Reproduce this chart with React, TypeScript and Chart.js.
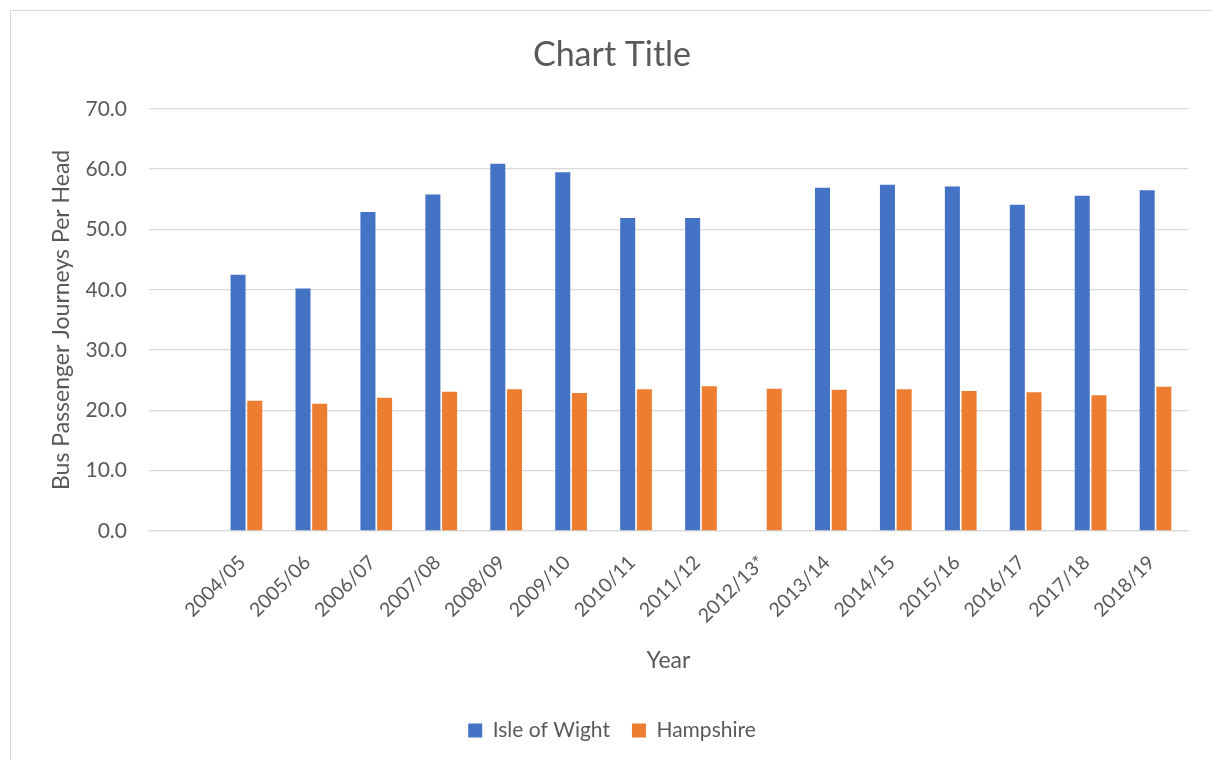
import React, { useEffect, useRef } from "react";
import { Chart, registerables } from "chart.js";

Chart.register(...registerables);

const categories: string[] = [
  "",
  "2004/05",
  "2005/06",
  "2006/07",
  "2007/08",
  "2008/09",
  "2009/10",
  "2010/11",
  "2011/12",
  "2012/13*",
  "2013/14",
  "2014/15",
  "2015/16",
  "2016/17",
  "2017/18",
  "2018/19",
];

const isleOfWight: (number | null)[] = [
  null, 42.5, 40.2, 52.9, 55.8, 60.9, 59.5, 51.9, 51.9, null, 56.9, 57.4, 57.1, 54.1, 55.6, 56.5,
];

const hampshire: (number | null)[] = [
  null, 21.6, 21.1, 22.1, 23.1, 23.5, 22.9, 23.5, 24.0, 23.6, 23.4, 23.5, 23.2, 23.0, 22.5, 23.9,
];

const seriesNames = ["Isle of Wight", "Hampshire"];
const yTicks = { min: 0, max: 70, step: 10 };

const FONT = "Lato, 'Open Sans', sans-serif";
const TEXT = "#595959";
const GRID = "#d9d9d9";

export default function App() {
  const ref = useRef<HTMLCanvasElement | null>(null);

  useEffect(() => {
    if (!ref.current) return;
    const chart = new Chart(ref.current, {
      type: "bar",
      data: {
        labels: categories,
        datasets: [
          {
            label: seriesNames[0],
            data: isleOfWight,
            backgroundColor: "#4472C4",
            categoryPercentage: 0.514,
            barPercentage: 0.9,
          },
          {
            label: seriesNames[1],
            data: hampshire,
            backgroundColor: "#ED7D31",
            categoryPercentage: 0.514,
            barPercentage: 0.9,
          },
        ],
      },
      options: {
        animation: false,
        responsive: false,
        maintainAspectRatio: false,
        devicePixelRatio: 1,
        layout: { padding: { left: 0, right: 0, top: 0, bottom: 9 } },
        plugins: {
          title: {
            display: true,
            text: "Chart Title",
            color: TEXT,
            font: { family: FONT, size: 34, weight: "normal" },
            padding: { top: 24, bottom: 33 },
          },
          legend: {
            display: true,
            position: "bottom",
            labels: {
              color: TEXT,
              font: { family: FONT, size: 21 },
              boxWidth: 14,
              boxHeight: 14,
              padding: 22,
            },
          },
          tooltip: { enabled: false },
        },
        scales: {
          x: {
            grid: { display: false, drawTicks: false },
            border: { display: true, color: GRID, width: 1.3 },
            ticks: {
              color: TEXT,
              font: { family: FONT, size: 19.5 },
              maxRotation: 45,
              minRotation: 45,
              autoSkip: false,
              padding: 20,
              labelOffset: -4,
            },
            title: {
              display: true,
              text: "Year",
              color: TEXT,
              font: { family: FONT, size: 23 },
              padding: { top: 0, bottom: 24 },
            },
            afterFit: (scale: any) => {
              scale.height = 167;
            },
          },
          y: {
            min: yTicks.min,
            max: yTicks.max,
            grid: { color: GRID, lineWidth: 1.3, drawTicks: false },
            border: { display: false },
            ticks: {
              stepSize: yTicks.step,
              color: TEXT,
              font: { family: FONT, size: 21 },
              padding: 22,
              callback: (v: any) => Number(v).toFixed(1),
            },
            title: {
              display: true,
              text: "Bus Passenger Journeys Per Head",
              color: TEXT,
              font: { family: FONT, size: 23 },
              padding: { top: 37, bottom: 0 },
            },
            afterFit: (scale: any) => {
              scale.width = 138;
            },
          },
          yRight: {
            position: "right",
            display: true,
            min: yTicks.min,
            max: yTicks.max,
            grid: { display: false, drawTicks: false },
            border: { display: false },
            ticks: { display: false },
            afterFit: (scale: any) => {
              scale.width = 25;
            },
          },
        },
      },
    });
    return () => chart.destroy();
  }, []);

  return (
    <div
      style={{
        position: "fixed",
        left: 0,
        top: 0,
        width: 1212,
        height: 760,
        overflow: "hidden",
        background: "#ffffff",
      }}
    >
      <div
        style={{
          position: "absolute",
          left: 10,
          top: 10,
          width: 1230,
          height: 780,
          border: "1px solid #d9d9d9",
          background: "#ffffff",
        }}
      >
        <canvas ref={ref} width={1202} height={749} style={{ display: "block" }} />
      </div>
    </div>
  );
}
